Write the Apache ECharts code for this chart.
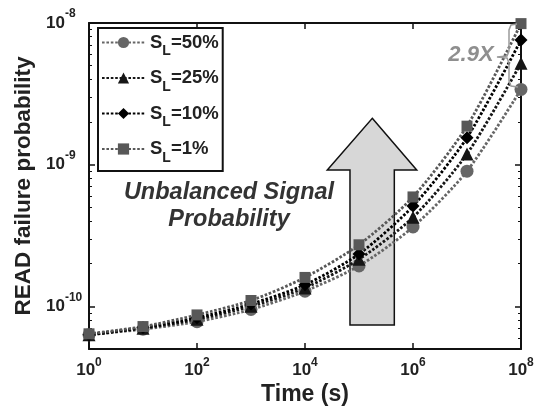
<!DOCTYPE html>
<html>
<head>
<meta charset="utf-8">
<script src="https://cdn.jsdelivr.net/npm/echarts@6/dist/echarts.min.js"></script>
<style>
  html, body { margin: 0; padding: 0; background: #fff; }
  #chart { width: 542px; height: 412px; }
</style>
</head>
<body>
<div id="chart"></div>
<script>
// time points (s) and READ failure probability per signal probability S_L
const times = [1, 10, 100, 1e3, 1e4, 1e5, 1e6, 1e7, 1e8]
const sl50 = [6.3e-11, 6.9e-11, 7.8e-11, 9.5e-11, 1.28e-10, 1.93e-10, 3.63e-10, 9.0e-10, 3.4e-9]
const sl25 = [6.3e-11, 7.0e-11, 8.1e-11, 1.0e-10, 1.35e-10, 2.15e-10, 4.25e-10, 1.19e-9, 5.2e-9]
const sl10 = [6.3e-11, 7.1e-11, 8.3e-11, 1.04e-10, 1.42e-10, 2.34e-10, 5.1e-10, 1.55e-9, 7.6e-9]
const sl1 = [6.4e-11, 7.2e-11, 8.7e-11, 1.1e-10, 1.6e-10, 2.72e-10, 5.92e-10, 1.87e-9, 9.9e-9]
const seriesNames = ['SL=50%', 'SL=25%', 'SL=10%', 'SL=1%']

const font = '"Liberation Sans", Arial, sans-serif'
const dotted = [2.6, 1.8]

function pairs(vals) {
  return times.map((t, i) => [t, vals[i]])
}

function powLabel(v) {
  const e = Math.log10(v)
  const r = Math.round(e)
  if (Math.abs(e - r) > 1e-6) return ''
  return '{b|10}{s|' + r + '}'
}

const xRich = {
  b: { fontSize: 17, fontWeight: 'bold', color: '#222', fontFamily: font },
  s: { fontSize: 12, fontWeight: 'bold', color: '#222', fontFamily: font, padding: [0, 0, 14, 0] }
}
const yRich = {
  b: { fontSize: 17, fontWeight: 'bold', color: '#222', fontFamily: font },
  s: { fontSize: 12, fontWeight: 'bold', color: '#222', fontFamily: font, padding: [0, 0, 18, 0] }
}

function lineSeries(name, vals, symbol, size, color) {
  return {
    name: name,
    type: 'line',
    data: pairs(vals),
    smooth: 0.25,
    symbol: symbol,
    symbolSize: size,
    itemStyle: { color: color },
    lineStyle: { color: color, width: 2.8, type: dotted },
    z: 3
  }
}

// big arrow, in log10 units (x exponent, y exponent)
const arrowPts = [
  [5.246, -8.673], [6.069, -9.037], [5.654, -9.037], [5.654, -10.131],
  [4.833, -10.131], [4.833, -9.037], [4.413, -9.037]
]

const chart = echarts.init(document.getElementById('chart'))

chart.setOption({
  animation: false,
  backgroundColor: '#fff',
  textStyle: { fontFamily: font },
  grid: { left: 89, right: 21, top: 23, bottom: 63 },
  legend: {
    data: seriesNames,
    orient: 'vertical',
    left: 98,
    top: 28,
    padding: [5, 4, 6, 3],
    itemGap: 10,
    itemWidth: 43,
    itemHeight: 14,
    borderColor: '#111',
    borderWidth: 2,
    backgroundColor: '#fff',
    formatter: function (name) {
      return '{s|S}{l|L}{t|' + name.slice(2) + '}'
    },
    textStyle: {
      rich: {
        s: { fontSize: 18.5, fontWeight: 'bold', color: '#222', fontFamily: font },
        l: { fontSize: 14, fontWeight: 'bold', color: '#222', fontFamily: font, padding: [18, 0, 0, 0] },
        t: { fontSize: 18.5, fontWeight: 'bold', color: '#222', fontFamily: font }
      }
    }
  },
  xAxis: [{
    type: 'log',
    min: 1,
    max: 1e8,
    interval: 2,
    name: 'Time (s)',
    nameLocation: 'middle',
    nameGap: 31,
    nameTextStyle: { fontSize: 23, fontWeight: 'bold', color: '#222', fontFamily: font },
    axisLine: { lineStyle: { color: '#111', width: 2 } },
    axisTick: { inside: true, length: 6, lineStyle: { color: '#111', width: 1.5 } },
    axisLabel: { formatter: powLabel, rich: xRich, margin: 8 },
    splitLine: { show: false }
  }, {
    type: 'log',
    position: 'top',
    min: 1,
    max: 1e8,
    interval: 2,
    axisLine: { lineStyle: { color: '#111', width: 2 } },
    axisTick: { inside: true, length: 6, lineStyle: { color: '#111', width: 1.5 } },
    axisLabel: { show: false },
    splitLine: { show: false }
  }],
  yAxis: [{
    type: 'log',
    min: 5e-11,
    max: 1e-8,
    name: 'READ failure probability',
    nameLocation: 'middle',
    nameGap: 51,
    nameTextStyle: { fontSize: 22.5, fontWeight: 'bold', color: '#222', fontFamily: font },
    axisLine: { lineStyle: { color: '#111', width: 2 } },
    axisTick: { inside: true, length: 6, lineStyle: { color: '#111', width: 1.5 } },
    minorTick: { show: true, splitNumber: 9, length: 3, lineStyle: { color: '#111', width: 1 } },
    axisLabel: { formatter: powLabel, rich: yRich, align: 'left', margin: 43, showMinLabel: false },
    splitLine: { show: false },
    minorSplitLine: { show: false }
  }, {
    type: 'log',
    position: 'right',
    min: 5e-11,
    max: 1e-8,
    axisLine: { lineStyle: { color: '#111', width: 2 } },
    axisTick: { inside: true, length: 6, lineStyle: { color: '#111', width: 1.5 } },
    minorTick: { show: true, splitNumber: 9, length: 3, lineStyle: { color: '#111', width: 1 } },
    axisLabel: { show: false },
    splitLine: { show: false }
  }],
  graphic: [{
    type: 'text',
    x: 229,
    y: 206.5,
    z: 10,
    style: {
      text: 'Unbalanced Signal\nProbability',
      font: 'italic bold 23.5px ' + font,
      fill: '#333',
      align: 'center',
      verticalAlign: 'middle',
      lineHeight: 27
    }
  }, {
    type: 'text',
    x: 471,
    y: 55,
    z: 10,
    style: {
      text: '2.9X',
      font: 'italic bold 22px ' + font,
      fill: '#8f8f8f',
      align: 'center',
      verticalAlign: 'middle'
    }
  }, {
    type: 'polyline',
    z: 10,
    shape: {
      points: [[517, 24], [511, 25], [509, 30], [509, 51], [507, 56], [497, 57],
        [507, 58], [509, 63], [509, 81], [511, 86], [518, 87]]
    },
    style: { fill: 'none', stroke: '#9a9a9a', lineWidth: 1.5 }
  }],
  series: [{
    type: 'custom',
    silent: true,
    z: 1,
    data: [[1e5, 1e-9]],
    renderItem: function (params, api) {
      const pts = arrowPts.map(p => api.coord([Math.pow(10, p[0]), Math.pow(10, p[1])]))
      return {
        type: 'polygon',
        shape: { points: pts },
        style: { fill: '#d7d7d7', stroke: '#111', lineWidth: 1.5 }
      }
    }
  },
  lineSeries(seriesNames[0], sl50, 'circle', 13, '#666'),
  lineSeries(seriesNames[1], sl25, 'triangle', 13, '#161616'),
  lineSeries(seriesNames[2], sl10, 'diamond', 13, '#000'),
  lineSeries(seriesNames[3], sl1, 'rect', 11, '#585858')]
})
</script>
</body>
</html>
